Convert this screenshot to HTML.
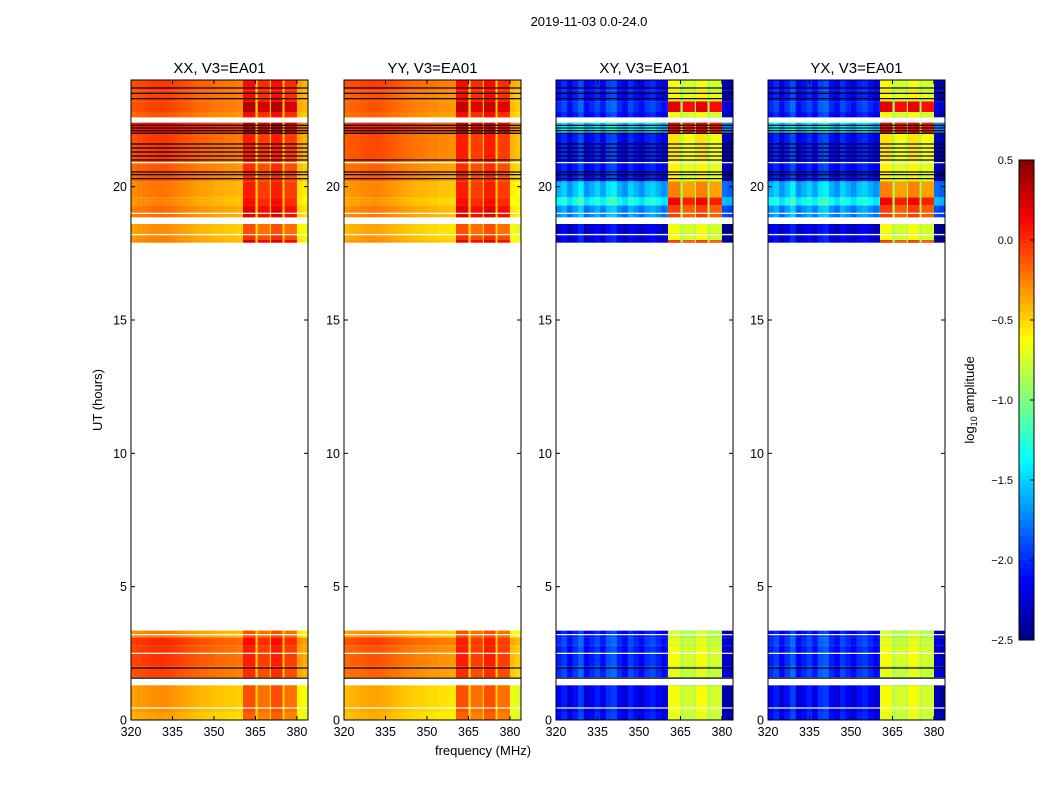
<!DOCTYPE html>
<html><head><meta charset="utf-8"><style>
body{margin:0;background:#fff;}
svg{display:block;font-family:"Liberation Sans",sans-serif;}
</style></head><body>
<svg id="chart" width="1050" height="800" viewBox="0 0 1050 800">
<rect width="1050" height="800" fill="#fff"/>
<text x="589" y="26" font-size="13" text-anchor="middle">2019-11-03 0.0-24.0</text>
<text transform="translate(102,400) rotate(-90)" font-size="13" text-anchor="middle">UT (hours)</text>
<text x="483" y="755" font-size="13" text-anchor="middle">frequency (MHz)</text>
<text transform="translate(974,400) rotate(-90)" font-size="13" text-anchor="middle">log<tspan font-size="9" dy="3">10</tspan><tspan dy="-3"> amplitude</tspan></text>
<g id="panels"></g>
<g id="cbar"></g>
</svg>
<script>
const panelNames=["XX, V3=EA01","YY, V3=EA01","XY, V3=EA01","YX, V3=EA01"];
const panelLeft=[131,344,556,768];
const yTicks=[0,5,10,15,20];
const xTicks=[320,335,350,365,380];
const cbarTicks=[0.5,0.0,-0.5,-1.0,-1.5,-2.0,-2.5];
// rows: start hour, end hour
const rowStart=[0,0.3,1.6,2.0,2.8,3.1,17.9,18.0,18.25,18.85,19.3,19.6,20.2,21.0,22.0,22.6,22.8,23.2,23.6];
const rowEnd=[0.3,1.3,2.0,2.8,3.1,3.35,18.0,18.25,18.6,19.3,19.6,20.2,21.0,22.0,22.4,22.8,23.2,23.6,24];
const xxBase=[-0.4,-0.35,-0.12,-0.08,-0.05,-0.3,-0.3,-0.32,-0.35,-0.25,-0.32,-0.28,-0.18,-0.1,0.05,-0.18,-0.12,-0.12,-0.1];
const xxBlock=[-0.2,-0.15,-0.05,0.0,0.05,-0.15,0.2,-0.05,-0.15,0.15,0.05,0.0,-0.05,0.0,0.25,0.05,0.3,0.05,0.05];
const yyBase=[-0.45,-0.42,-0.22,-0.18,-0.12,-0.35,-0.35,-0.38,-0.42,-0.3,-0.38,-0.33,-0.22,-0.15,-0.02,-0.22,-0.18,-0.18,-0.12];
const yyBlock=[-0.2,-0.15,-0.05,0.0,0.0,-0.15,0.15,-0.05,-0.15,0.15,0.05,0.0,-0.05,0.0,0.2,0.05,0.25,0.05,0.05];
const xyBase=[-2.1,-2.15,-2.0,-2.05,-2.0,-2.1,-2.2,-2.2,-2.25,-1.7,-1.35,-1.6,-2.1,-2.1,-1.5,-2.1,-2.0,-2.1,-2.1];
const xyBlock=[-0.75,-0.7,-0.75,-0.7,-0.75,-0.8,-0.1,-0.7,-0.7,-0.1,0.1,-0.3,-0.65,-0.6,0.1,-0.7,0.15,-0.65,-0.7];
const blackLines=[1.57,1.95,20.3,20.45,20.55,21.0,21.15,21.3,21.45,21.6,22.0,22.1,22.2,22.3,23.3,23.5,23.7];
const whiteLines=[0.45,18.2,18.75,19.0,20.9,22.5,3.2,2.5];
// frequency bins (2 MHz each from 320)
const parOff=[0,0.02,0.03,0.05,0.06,0.07,0.06,0.04,0.02,0,-0.02,-0.04,-0.06,-0.07,-0.08,-0.1,-0.1,-0.12,-0.12,-0.14,-0.15,-0.15,-0.15,-0.15,-0.15,-0.15,-0.15,-0.15,-0.15,-0.15,-0.25,-0.3];
const crossOff=[0,0.1,-0.1,0.05,0.2,-0.1,0,0.1,-0.05,0.15,0.2,0,-0.1,0.1,0,-0.1,0.05,0.1,0,-0.1,0,0,0,0,0,0,0,0,0,0,-0.2,-0.25];
const spwStart=[360.5,365.8,370.6,375.5];
const spwEnd=[365.0,370.2,374.8,380.0];

const NS="http://www.w3.org/2000/svg";
const pxPerMHz=177/64, pxPerHour=640/24;
function xs(f,L){return L+(f-320)*pxPerMHz;}
function ys(h){return 720-h*pxPerHour;}
function jet(v){let t=(v+2.5)/3;t=Math.max(0,Math.min(1,t));
 const c=x=>Math.round(255*Math.max(0,Math.min(1,x)));
 return `rgb(${c(1.5-Math.abs(4*t-3))},${c(1.5-Math.abs(4*t-2))},${c(1.5-Math.abs(4*t-1))})`;}
function mk(tag,attrs,parent){const e=document.createElementNS(NS,tag);for(const k in attrs)e.setAttribute(k,attrs[k]);parent.appendChild(e);return e;}
const panels=document.getElementById('panels');
const bases=[xxBase,yyBase,xyBase,xyBase], blocks=[xxBlock,yyBlock,xyBlock,xyBlock];
for(let p=0;p<4;p++){
 const L=panelLeft[p];const g=mk('g',{},panels);
 
 
 const cross=p>=2, off=cross?crossOff:parOff;
 for(let r=0;r<rowStart.length;r++){
  const y0=ys(rowEnd[r]),y1=ys(rowStart[r]);
  for(let b=0;b<off.length;b++){
   const f=320+2*b;
   const c=mk('rect',{x:xs(f,L).toFixed(2),y:y0.toFixed(2),width:(2*pxPerMHz+0.3).toFixed(2),height:(y1-y0).toFixed(2),fill:jet(bases[p][r]+off[b])},g);
   
   
  }
  const gapV=cross?-0.9:-0.5;
  const gp=mk('rect',{x:xs(spwStart[0],L),y:y0,width:xs(spwEnd[3],L)-xs(spwStart[0],L),height:y1-y0,fill:jet(gapV)},g);
  
  
  for(let s=0;s<spwStart.length;s++){
   const bk=mk('rect',{x:xs(spwStart[s],L),y:y0,width:xs(spwEnd[s],L)-xs(spwStart[s],L),height:y1-y0,fill:jet(blocks[p][r]+(s%2?-0.05:0.05))},g);
   
   
  }
 }
 for(const h of whiteLines){const l=mk('rect',{x:L,y:ys(h)-0.6,width:177,height:1.2,fill:'#fff'},g);
  }
 for(const h of blackLines){if(p==1&&h>21&&h<22)continue;const l=mk('rect',{x:L,y:ys(h)-0.6,width:177,height:1.2,fill:'#000'},g);
  }
 const fr=mk('rect',{x:L,y:80,width:177,height:640,fill:'none',stroke:'#000','stroke-width':1},g);
 
 const t=mk('text',{x:L+88.5,y:73,'font-size':15,'text-anchor':'middle'},g);t.textContent=panelNames[p];
 
 for(const v of yTicks){const y=ys(v);
  mk('line',{x1:L,x2:L+4,y1:y,y2:y,stroke:'#000'},g);mk('line',{x1:L+177,x2:L+173,y1:y,y2:y,stroke:'#000'},g);
  const tl=mk('text',{x:L-4,y:y+4.5,'font-size':12.5,'text-anchor':'end'},g);tl.textContent=v;
  }
 for(const v of xTicks){const x=xs(v,L);
  mk('line',{x1:x,x2:x,y1:720,y2:716,stroke:'#000'},g);mk('line',{x1:x,x2:x,y1:80,y2:84,stroke:'#000'},g);
  const tl=mk('text',{x:x,y:736,'font-size':12.5,'text-anchor':'middle'},g);tl.textContent=v;
  }
}
// colorbar
const cb=document.getElementById('cbar');
for(let i=0;i<120;i++){const v=0.5-3*(i+0.5)/120;
 const r=mk('rect',{x:1019,y:160+i*4,width:15,height:4.3,fill:jet(v)},cb);
 }
const cf=mk('rect',{x:1019,y:160,width:15,height:480,fill:'none',stroke:'#000'},cb);

for(const v of cbarTicks){const y=160+(0.5-v)/3*480;
 mk('line',{x1:1030,x2:1034,y1:y,y2:y,stroke:'#000'},cb);
 const tl=mk('text',{x:1013,y:y+4,'font-size':11,'text-anchor':'end'},cb);tl.textContent=v.toFixed(1).replace('-','\u2212');
 }
</script>
</body></html>
